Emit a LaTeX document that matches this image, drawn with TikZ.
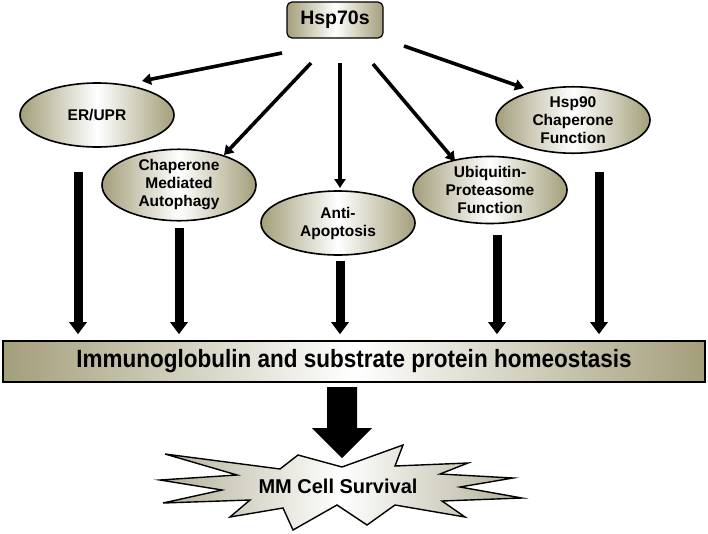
\documentclass[tikz,border=0pt]{standalone}
\usepackage{fontspec}
\setmainfont{Liberation Sans}
\newfontfamily\narrowfont[FakeStretch=0.9]{Liberation Sans}
\usetikzlibrary{arrows.meta,shapes.geometric,calc}
\definecolor{khaki}{RGB}{163,158,122}
\definecolor{starkhaki}{RGB}{178,175,150}
\begin{document}
\begin{tikzpicture}[x=1pt,y=-1pt,
  shadefill/.style={left color=khaki, right color=khaki, middle color=white},
  bub/.style={ellipse, draw=black, line width=1.6pt, shadefill, minimum width=154pt, minimum height=64pt, inner sep=0pt, align=center, font=\bfseries\fontsize{15.5}{18}\selectfont},
  thinarr/.style={line width=3.6pt, -{Triangle[length=9pt,width=11pt]}},
  thickarr/.style={line width=9pt, -{Triangle[length=12pt,width=17pt]}}]
\useasboundingbox (0,0) rectangle (708,533);
% top box
\node[draw, rounded corners=5pt, line width=1.2pt, shadefill, minimum width=96pt, minimum height=36pt, inner sep=0pt, font=\bfseries\fontsize{19.5}{22}\selectfont] (h70) at (335,20) {Hsp70s};
% ellipses
\node[bub] (er) at (97,115) {ER/UPR};
\node[bub] (cma) at (179,185) {Chaperone\\Mediated\\Autophagy};
\node[bub] (anti) at (338,223) {Anti-\\Apoptosis};
\node[bub] (ubi) at (490,190) {Ubiquitin-\\Proteasome\\Function};
\node[bub] (h90) at (573,120) {Hsp90\\Chaperone\\Function};
% bar
\node[draw, line width=1.6pt, shadefill, minimum width=702pt, minimum height=41pt, inner sep=0pt, font=\narrowfont\bfseries\fontsize{25}{28}\selectfont] (bar) at (354,361.5) {Immunoglobulin and substrate protein homeostasis};
% arrow start/end points
\coordinate (s1) at (282,53);  \coordinate (t1) at (142,81);
\coordinate (s2) at (311,63);  \coordinate (t2) at (224,155);
\coordinate (s3) at (340,63);  \coordinate (t3) at (340,188);
\coordinate (s4) at (373,64);  \coordinate (t4) at (455,161);
\coordinate (s5) at (404,46);  \coordinate (t5) at (524,88);
\draw[thinarr] (s1) -- (t1);
\draw[thinarr] (s2) -- (t2);
\draw[thinarr] (s3) -- (t3);
\draw[thinarr] (s4) -- (t4);
\draw[thinarr] (s5) -- (t5);
% vertical arrows
\coordinate (v1) at (78,172);
\coordinate (v2) at (179,228);
\coordinate (v3) at (340,261);
\coordinate (v4) at (497,235);
\coordinate (v5) at (599,172);
\foreach \v in {v1,v2,v3,v4,v5}
  \draw[thickarr, shorten >=6pt] (\v) -- (\v |- bar.north);
% starburst
\draw[line width=1.4pt, left color=starkhaki, right color=starkhaki, middle color=white]
  (165,454) -- (280,469) -- (298,455) -- (342,467) -- (403,445) -- (395,466)
  -- (468,463) -- (440,474) -- (513,478) -- (460,487) -- (522,498) -- (442,501)
  -- (465,517) -- (395,505) -- (367,525) -- (337,505) -- (293,530) -- (283,508)
  -- (230,517) -- (250,500) -- (163,503) -- (222,490) -- (160,480) -- (237,475) -- cycle;
\node[font=\bfseries\fontsize{20}{24}\selectfont, inner sep=0pt] (mm) at (338,486) {MM Cell Survival};
% big arrow
\fill[black] (327,387) -- (357,387) -- (357,428) -- (372,428) -- (342,458) -- (312,428) -- (327,428) -- cycle;
\end{tikzpicture}
\end{document}
